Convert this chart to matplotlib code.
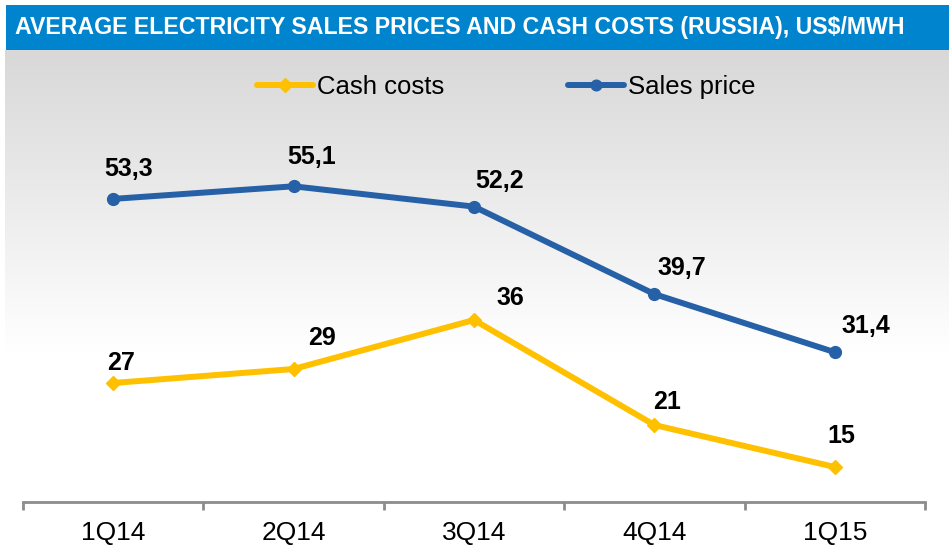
import matplotlib
matplotlib.use("Agg")
import matplotlib.pyplot as plt
import numpy as np
from matplotlib.font_manager import fontManager

categories = ["1Q14", "2Q14", "3Q14", "4Q14", "1Q15"]
cash_costs = [27, 29, 36, 21, 15]
sales_price = [53.3, 55.1, 52.2, 39.7, 31.4]
cash_labels = ["27", "29", "36", "21", "15"]
sales_labels = ["53,3", "55,1", "52,2", "39,7", "31,4"]
title = "AVERAGE ELECTRICITY SALES PRICES AND CASH COSTS (RUSSIA), US$/MWH"

names = {f.name for f in fontManager.ttflist}
base = "Liberation Sans" if "Liberation Sans" in names else "DejaVu Sans"
narrow = "Liberation Sans Narrow" if "Liberation Sans Narrow" in names else base
plt.rcParams["font.family"] = [base, "DejaVu Sans"]

W, H = 949, 554
fig = plt.figure(figsize=(W / 100, H / 100), dpi=100)
fig.patch.set_facecolor("white")

# background gradient panel
bg = fig.add_axes([5 / W, 0, 1 - 5 / W, (H - 50) / H])
bg.set_axis_off()
n = 504
yy = np.linspace(0, 1, n)
g = 216 + (255 - 216) * np.clip(yy / 0.6, 0, 1)
grad = np.repeat(g[:, None], 2, axis=1) / 255.0
img = np.dstack([grad, grad, grad])
bg.imshow(img, aspect="auto", extent=[0, 1, 0, 1], origin="upper", interpolation="bilinear")
bg.set_xlim(0, 1)
bg.set_ylim(0, 1)

# title bar
tb = fig.add_axes([6 / W, (H - 50) / H, 1 - 6 / W, 45 / H])
tb.set_axis_off()
tb.add_patch(plt.Rectangle((0, 0), 1, 1, color="#0084CD", transform=tb.transAxes))
ttl = tb.text(9 / (W - 6), 0.5, title, color="white", fontsize=17.5, fontweight="bold",
              family=[narrow, "DejaVu Sans"], va="center", ha="left", transform=tb.transAxes)
renderer = fig.canvas.get_renderer()
tw = ttl.get_window_extent(renderer=renderer).width
target = 890.0
if tw > target:
    ttl.set_fontsize(17.5 * target / tw)

# main axes
ax = fig.add_axes([23 / W, (H - 502) / H, 902 / W, 350 / H])
ax.set_facecolor("none")
x = np.arange(len(categories))
yellow = "#FFC000"
blue = "#2660A6"
ax.plot(x, cash_costs, color=yellow, lw=4.3, marker="D", ms=7.5, solid_capstyle="round",
        label="Cash costs", zorder=3)
ax.plot(x, sales_price, color=blue, lw=4.3, marker="o", ms=8.5, solid_capstyle="round",
        label="Sales price", zorder=3)

ax.set_xlim(-0.5, len(categories) - 0.5)
ax.set_ylim(10, 60)
for s in ["top", "right", "left"]:
    ax.spines[s].set_visible(False)
ax.spines["bottom"].set_color("#8C8C8C")
ax.spines["bottom"].set_linewidth(2)
ax.set_yticks([])
ax.set_xticks(np.arange(-0.5, len(categories), 1.0))
ax.set_xticklabels([])
ax.set_xticks(x, minor=True)
ax.set_xticklabels(categories, minor=True, fontsize=19)
ax.tick_params(axis="x", which="major", length=6, width=2, color="#8C8C8C", direction="out")
ax.tick_params(axis="x", which="minor", length=0, pad=14)

cash_off = [(8, 20), (28, 31), (36, 22), (13, 23), (7, 31)]
sales_off = [(15, 30), (18, 29), (26, 26), (27, 26), (31, 26)]
for i in range(len(categories)):
    ax.annotate(cash_labels[i], (x[i], cash_costs[i]),
                xytext=(cash_off[i][0] * 0.72, cash_off[i][1] * 0.72), textcoords="offset points",
                ha="center", va="center", fontsize=18, fontweight="bold", color="black")
    ax.annotate(sales_labels[i], (x[i], sales_price[i]),
                xytext=(sales_off[i][0] * 0.72, sales_off[i][1] * 0.72), textcoords="offset points",
                ha="center", va="center", fontsize=18, fontweight="bold", color="black")

leg = fig.legend(loc="center", bbox_to_anchor=(506 / W, 1 - 87 / H), ncol=2, frameon=False,
                 fontsize=18.5, handlelength=2.2, handletextpad=0.15, columnspacing=4.8,
                 markerscale=0.9)

fig.savefig("out.png", dpi=100)
